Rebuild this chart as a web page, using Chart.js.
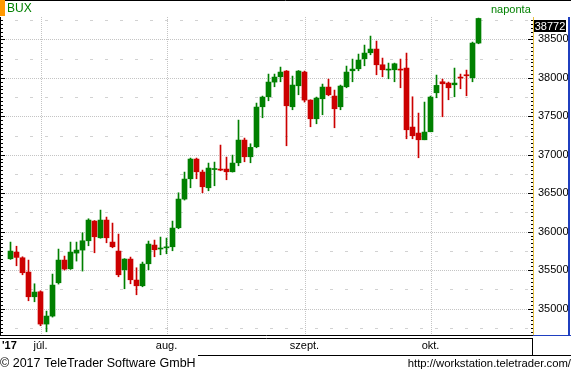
<!DOCTYPE html>
<html>
<head>
<meta charset="utf-8">
<script src="https://cdn.jsdelivr.net/npm/chart.js@4/dist/chart.umd.min.js"></script>
<style>
  html, body { margin: 0; padding: 0; background: #fff; }
  #wrap { width: 571px; height: 372px; position: relative; }
  canvas { display: block; }
</style>
</head>
<body>
<div id="wrap"><canvas id="c" width="571" height="372"></canvas></div>
<script>
// ---- data (BUX, daily candles) ----
const dates = [
  "2017-06-26","2017-06-27","2017-06-28","2017-06-29","2017-06-30",
  "2017-07-03","2017-07-04","2017-07-05","2017-07-06","2017-07-07",
  "2017-07-10","2017-07-11","2017-07-12","2017-07-13","2017-07-14",
  "2017-07-17","2017-07-18","2017-07-19","2017-07-20","2017-07-21",
  "2017-07-24","2017-07-25","2017-07-26","2017-07-27","2017-07-28",
  "2017-07-31",
  "2017-08-01","2017-08-02","2017-08-03","2017-08-04",
  "2017-08-07","2017-08-08","2017-08-09","2017-08-10","2017-08-11",
  "2017-08-14","2017-08-15","2017-08-16","2017-08-17","2017-08-18",
  "2017-08-21","2017-08-22","2017-08-23","2017-08-24","2017-08-25",
  "2017-08-28","2017-08-29","2017-08-30","2017-08-31",
  "2017-09-01",
  "2017-09-04","2017-09-05","2017-09-06","2017-09-07","2017-09-08",
  "2017-09-11","2017-09-12","2017-09-13","2017-09-14","2017-09-15",
  "2017-09-18","2017-09-19","2017-09-20","2017-09-21","2017-09-22",
  "2017-09-25","2017-09-26","2017-09-27","2017-09-28","2017-09-29",
  "2017-10-02","2017-10-03","2017-10-04","2017-10-05","2017-10-06",
  "2017-10-09","2017-10-10","2017-10-11","2017-10-12"
];
const openV  = [35648,35735,35661,35475,35154,35219,34799,34903,35336,35631,35518,35722,35761,35882,36138,35921,36151,35865,35748,35505,35644,35371,35297,35583,35826,35775,35790,35804,36051,36424,36688,36944,36775,36571,36808,36814,36814,36779,36896,37191,36974,37104,37624,37754,37945,38014,38088,37624,37897,38075,37711,37468,37728,37880,37763,37624,37884,38092,38118,38248,38326,38374,38170,38101,38105,38110,38127,37360,37282,37195,37299,37806,37949,37932,37910,38010,38036,38001,38452];
const highV  = [35865,35811,35674,35631,35323,35232,34968,35449,35774,35683,35865,35865,35986,36168,36145,36281,36190,36112,35969,35650,35670,35531,35605,35878,35891,35930,35917,36138,36506,36775,36957,36957,36801,36892,36905,37126,36970,36996,37451,37217,37143,37672,37763,38049,38049,38140,38095,38023,38095,38088,37715,37750,37919,37984,37841,37906,38153,38244,38309,38426,38543,38478,38257,38192,38192,38244,38322,37754,37542,37685,37763,38036,37984,37945,38127,38049,38101,38465,38777];
const lowV   = [35640,35557,35440,35102,35089,34777,34699,34890,35319,35501,35510,35618,35488,35817,35726,35915,35856,35791,35414,35258,35323,35180,35284,35505,35674,35700,35713,35752,36038,36411,36571,36688,36506,36532,36597,36792,36675,36775,36857,36909,36896,37091,37481,37702,37884,37949,37117,37585,37780,37685,37364,37403,37520,37767,37351,37585,37871,37949,38092,38157,38300,38040,38014,37988,37949,37871,37208,37208,36961,37195,37299,37741,37494,37715,37754,37858,37767,37949,38443];
const closeV = [35748,35666,35466,35154,35215,34799,34903,35306,35631,35514,35735,35761,35882,36151,35934,36151,35921,35804,35440,35644,35375,35297,35579,35839,35765,35785,35800,36047,36424,36684,36944,36779,36584,36827,36818,36801,36779,36892,37191,36974,37096,37620,37750,37945,38010,38075,37637,37906,38088,37711,37468,37737,37880,37780,37598,37893,38075,38114,38231,38322,38374,38170,38105,38112,38183,38101,37325,37247,37195,37295,37750,37902,37923,37871,37932,37997,38027,38452,38772];
const monthNames = ["jan.","febr.","márc.","ápr.","máj.","jún.","júl.","aug.","szept.","okt.","nov.","dec."];
const yTicks = [35000,35500,36000,36500,37000,37500,38000,38500];
const yearLabel = "'17";
const symbolName = "BUX";
const periodName = "naponta";
const footerLeft = "\u00A9 2017 TeleTrader Software GmbH";
const footerRight = "http://workstation.teletrader.com/";

// ---- derived ----
const UP = '#008000', DOWN = '#cc0000';
const colors = openV.map((o, i) => closeV[i] >= o ? UP : DOWN);
const monthStarts = [];
dates.forEach((d, i) => {
  if (i > 0 && d.slice(5, 7) !== dates[i - 1].slice(5, 7)) monthStarts.push(i);
});
const FONT = '"Liberation Sans", Arial, sans-serif';

const decor = {
  id: 'decor',
  beforeDatasetsDraw(chart) {
    const { ctx, chartArea: a, scales: { x, y } } = chart;
    ctx.save();
    ctx.strokeStyle = '#d2d2d2';
    ctx.lineWidth = 1;
    ctx.setLineDash([3, 12]);
    for (let v = Math.ceil(y.min / 250) * 250; v <= y.max; v += 250) {
      if (v % 500 === 0) continue;
      const py = Math.round(y.getPixelForValue(v)) + 0.5;
      ctx.beginPath(); ctx.moveTo(a.left, py); ctx.lineTo(a.right, py); ctx.stroke();
    }
    ctx.strokeStyle = '#c4c4c4';
    ctx.setLineDash([1, 1]);
    yTicks.forEach(v => {
      const py = Math.round(y.getPixelForValue(v)) + 0.5;
      ctx.beginPath(); ctx.moveTo(a.left + 4, py); ctx.lineTo(a.right, py); ctx.stroke();
    });
    monthStarts.forEach(i => {
      const px = Math.round(x.getPixelForValue(i)) + 0.5;
      ctx.beginPath(); ctx.moveTo(px, a.top); ctx.lineTo(px, a.bottom); ctx.stroke();
    });
    ctx.restore();
  },
  afterDraw(chart) {
    const { ctx, chartArea: a, scales: { x, y }, width: W } = chart;
    ctx.save();
    ctx.setLineDash([]);
    ctx.lineWidth = 1;
    ctx.strokeStyle = '#000';
    ctx.beginPath(); ctx.moveTo(0, 0.5); ctx.lineTo(W, 0.5); ctx.stroke();
    ctx.beginPath(); ctx.moveTo(0.5, a.top); ctx.lineTo(0.5, a.bottom); ctx.stroke();
    for (let v = Math.ceil(y.min / 50) * 50; v <= y.max; v += 50) {
      const py = Math.round(y.getPixelForValue(v)) + 0.5;
      const len = v % 500 === 0 ? 5 : 3;
      ctx.beginPath(); ctx.moveTo(0, py); ctx.lineTo(len, py); ctx.stroke();
      const rl = v % 500 === 0 ? 5 : 2;
      ctx.beginPath(); ctx.moveTo(a.right - rl, py); ctx.lineTo(a.right, py); ctx.stroke();
    }
    ctx.beginPath(); ctx.moveTo(0, a.bottom + 0.5); ctx.lineTo(a.right, a.bottom + 0.5); ctx.stroke();
    ctx.beginPath(); ctx.moveTo(0, a.bottom + 3.5); ctx.lineTo(a.right, a.bottom + 3.5); ctx.stroke();
    ctx.beginPath(); ctx.moveTo(a.right - 0.5, a.bottom + 3); ctx.lineTo(a.right - 0.5, a.bottom + 20); ctx.stroke();
    ctx.beginPath(); ctx.moveTo(198, a.bottom + 20.5); ctx.lineTo(W, a.bottom + 20.5); ctx.stroke();
    ctx.strokeStyle = '#e6c040';
    ctx.beginPath(); ctx.moveTo(a.right + 0.5, a.top); ctx.lineTo(a.right + 0.5, a.bottom); ctx.stroke();
    ctx.strokeStyle = '#1f3fbf';
    ctx.lineWidth = 2;
    ctx.beginPath(); ctx.moveTo(W - 2, a.top); ctx.lineTo(W - 2, a.bottom + 1); ctx.stroke();
    ctx.lineWidth = 1;
    ctx.beginPath(); ctx.moveTo(a.right, a.bottom + 0.5); ctx.lineTo(W, a.bottom + 0.5); ctx.stroke();
    ctx.fillStyle = '#ff9900';
    ctx.fillRect(0, 0, 5, 16);
    ctx.fillStyle = '#008000';
    ctx.font = '12px ' + FONT;
    ctx.textBaseline = 'top';
    ctx.textAlign = 'left';
    ctx.fillText(symbolName, 7, 3);
    ctx.font = '11px ' + FONT;
    ctx.fillText(periodName, 491, 4);
    const last = closeV[closeV.length - 1];
    const ly = Math.max(y.getPixelForValue(last) - 6, a.top + 3);
    ctx.fillStyle = '#000';
    ctx.fillRect(a.right + 1, Math.round(ly), 32, 12);
    ctx.fillStyle = '#fff';
    ctx.textAlign = 'center';
    ctx.textBaseline = 'middle';
    ctx.font = '11px ' + FONT;
    ctx.fillText(String(last), a.right + 17, Math.round(ly) + 6.5);
    ctx.fillStyle = '#000';
    ctx.textAlign = 'left';
    ctx.textBaseline = 'top';
    ctx.font = 'bold 11px ' + FONT;
    ctx.fillText(yearLabel, 2, a.bottom + 5);
    ctx.font = '12.5px ' + FONT;
    ctx.fillText(footerLeft, 0, a.bottom + 22);
    ctx.textAlign = 'right';
    ctx.font = '11.3px ' + FONT;
    ctx.fillText(footerRight, W, a.bottom + 23);
    ctx.restore();
  }
};

new Chart(document.getElementById('c'), {
  type: 'bar',
  data: {
    datasets: [
      {
        label: 'wick',
        data: dates.map((d, i) => ({ x: i, y: [lowV[i], highV[i]] })),
        backgroundColor: colors,
        barThickness: 1,
        grouped: false,
        borderWidth: 0
      },
      {
        label: 'body',
        data: dates.map((d, i) => ({ x: i, y: [openV[i], closeV[i]] })),
        backgroundColor: colors,
        barThickness: 5,
        minBarLength: 1,
        grouped: false,
        borderWidth: 0
      }
    ]
  },
  options: {
    responsive: false,
    animation: false,
    events: [],
    layout: { padding: { top: 17, left: 0, right: 0, bottom: 0 } },
    plugins: { legend: { display: false }, tooltip: { enabled: false } },
    scales: {
      x: {
        type: 'linear',
        offset: false,
        min: -1.75,
        max: -1.75 + 533 / 6,
        grid: { display: false, drawTicks: false, offset: false },
        border: { display: false },
        afterBuildTicks(s) { s.ticks = monthStarts.map(i => ({ value: i })); },
        afterFit(s) { s.height = 37; },
        ticks: {
          autoSkip: false, maxRotation: 0, padding: 4, color: '#000',
          font: { family: FONT, size: 11 },
          callback: v => monthNames[parseInt(dates[v].slice(5, 7), 10) - 1]
        }
      },
      y: {
        position: 'right',
        offset: false,
        min: 34657,
        max: 38791,
        grid: { display: false, drawTicks: false },
        border: { display: false },
        afterBuildTicks(s) { s.ticks = yTicks.map(v => ({ value: v })); },
        afterFit(s) { s.width = 38; },
        ticks: {
          padding: 5, color: '#000', align: 'center', crossAlign: 'near',
          font: { family: FONT, size: 11 },
          callback: v => String(v)
        }
      }
    }
  },
  plugins: [decor]
});
</script>
</body>
</html>
